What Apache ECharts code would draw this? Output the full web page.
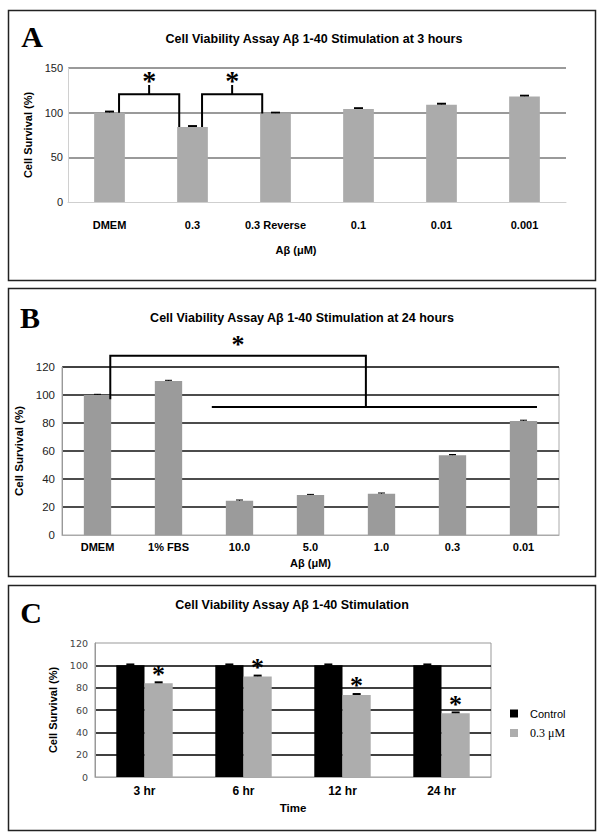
<!DOCTYPE html>
<html><head><meta charset="utf-8">
<script src="https://cdn.jsdelivr.net/npm/echarts@6/dist/echarts.min.js"></script>
<style>html,body{margin:0;padding:0;background:#fff}#c{width:602px;height:840px}</style>
</head><body><div id="c"></div>
<script>
const SANS = '"Liberation Sans", Arial, sans-serif';
const SERIF = '"Liberation Serif", "Times New Roman", serif';
const DEJAVU = '"DejaVu Sans", Verdana, sans-serif';

// ---------- Panel A ----------
const titleA = 'Cell Viability Assay Aβ 1-40 Stimulation at 3 hours';
const catsA = ['DMEM', '0.3', '0.3 Reverse', '0.1', '0.01', '0.001'];
const valsA = [100, 84, 99, 104, 109, 118];
const errA = [1.2, 1.0, 1.0, 1.0, 1.0, 1.0];
const yTicksA = [0, 50, 100, 150];
const bracketsA = [[0, 1, 120.5], [1, 2, 120.5]]; // [from category, to category, bracket level (%)]

// ---------- Panel B ----------
const titleB = 'Cell Viability Assay Aβ 1-40 Stimulation at 24 hours';
const catsB = ['DMEM', '1% FBS', '10.0', '5.0', '1.0', '0.3', '0.01'];
const valsB = [100, 110, 24.5, 28.5, 29.5, 57, 81.5];
const errB = [0.5, 0.5, 0.5, 0.5, 0.5, 0.5, 0.5];
const yTicksB = [0, 20, 40, 60, 80, 100, 120];
const bracketB = [[0, 4, 128, 2, 6, 91.5]]; // [from, to, level, group start, group end, group level]

// ---------- Panel C ----------
const titleC = 'Cell Viability Assay Aβ 1-40 Stimulation';
const catsC = ['3 hr', '6 hr', '12 hr', '24 hr'];
const controlC = [100, 100, 100, 100];
const treatC = [84, 90, 73.5, 57];
const errControlC = [0.8, 0.8, 0.8, 0.8];
const errTreatC = [0.8, 0.8, 0.8, 0.8];
const yTicksC = [0, 20, 40, 60, 80, 100, 120];
const seriesNamesC = ['Control', '0.3 μM'];

const chart = echarts.init(document.getElementById('c'), null, {renderer: 'svg'});

function errSeries(xi, vals, errs, offsetFrac, capW, lw) {
  return {
    type: 'custom', xAxisIndex: xi, yAxisIndex: xi, z: 1, silent: true,
    encode: {x: 0, y: 1},
    data: vals.map((v, i) => [i, v, errs[i]]),
    renderItem: (params, api) => {
      const i = api.value(0), v = api.value(1), e = api.value(2);
      const band = api.size([1, 0])[0];
      const top = api.coord([i, v + e]);
      const bot = api.coord([i, v - e]);
      const x = top[0] + offsetFrac * band;
      const st = {stroke: '#000', lineWidth: lw};
      return {type: 'group', children: [
        {type: 'line', shape: {x1: x, y1: top[1], x2: x, y2: bot[1]}, style: {stroke: '#000', lineWidth: 1}},
        {type: 'line', shape: {x1: x - capW / 2, y1: top[1], x2: x + capW / 2, y2: top[1]}, style: st},
        {type: 'line', shape: {x1: x - capW / 2, y1: bot[1], x2: x + capW / 2, y2: bot[1]}, style: st}
      ]};
    }
  };
}

function star(x, y, size) {
  return {type: 'text', x: x, y: y, style: {text: '*', fill: '#000', font: 'bold ' + size + 'px ' + SERIF, align: 'center', verticalAlign: 'middle'}};
}

const bracketSeriesA = {
  type: 'custom', xAxisIndex: 0, yAxisIndex: 0, z: 5, clip: false, silent: true,
  encode: {x: 0, y: 2},
  data: bracketsA,
  renderItem: (params, api) => {
    const band = api.size([1, 0])[0];
    const f = api.value(0), t = api.value(1), lv = api.value(2);
    const xl = api.coord([f, 0])[0] + 0.115 * band;
    const xr = api.coord([t, 0])[0] - 0.16 * band;
    const yf = api.coord([f, valsA[f]])[1];
    const yt = api.coord([t, valsA[t]])[1];
    const yl = api.coord([f, lv])[1];
    const ytk = api.coord([f, lv + 10.5])[1];
    const yst = api.coord([f, lv + 15])[1];
    const xm = (xl + xr) / 2;
    return {type: 'group', children: [
      {type: 'polyline', shape: {points: [[xl, yf], [xl, yl], [xr, yl], [xr, yt]]}, style: {stroke: '#000', lineWidth: 2, fill: 'none'}},
      {type: 'line', shape: {x1: xm, y1: yl, x2: xm, y2: ytk}, style: {stroke: '#000', lineWidth: 2}},
      star(xm, yst, 28)
    ]};
  }
};

const bracketSeriesB = {
  type: 'custom', xAxisIndex: 1, yAxisIndex: 1, z: 5, clip: false, silent: true,
  encode: {x: 0, y: 2},
  data: bracketB,
  renderItem: (params, api) => {
    const band = api.size([1, 0])[0];
    const f = api.value(0), t = api.value(1), lv = api.value(2);
    const g1 = api.value(3), g2 = api.value(4), gl = api.value(5);
    const xl = api.coord([f, 0])[0] + 0.18 * band;
    const xr = api.coord([t, 0])[0] - 0.22 * band;
    const yf = api.coord([f, valsB[f] - 3])[1];
    const yl = api.coord([f, lv])[1];
    const yg = api.coord([f, gl])[1];
    const xg1 = api.coord([g1, 0])[0] - 0.39 * band;
    const xg2 = api.coord([g2, 0])[0] + 0.19 * band;
    const xm = (xl + xr) / 2;
    const yst = api.coord([f, lv + 8])[1];
    return {type: 'group', children: [
      {type: 'polyline', shape: {points: [[xl, yf], [xl, yl], [xr, yl], [xr, yg]]}, style: {stroke: '#000', lineWidth: 2, fill: 'none'}},
      {type: 'line', shape: {x1: xg1, y1: yg, x2: xg2, y2: yg}, style: {stroke: '#000', lineWidth: 2}},
      star(xm, yst, 26)
    ]};
  }
};

const boldName = (size) => ({fontWeight: 'bold', fontSize: size, color: '#000', fontFamily: SANS});

const option = {
  animation: false,
  backgroundColor: '#fff',
  textStyle: {fontFamily: SANS},
  grid: [
    {left: 68, top: 68, width: 498, height: 134},
    {left: 62, top: 367, width: 497, height: 168, show: true, borderColor: '#aaa', borderWidth: 1},
    {left: 95, top: 643, width: 396, height: 134, show: true, borderColor: '#999', borderWidth: 1}
  ],
  xAxis: [
    {gridIndex: 0, type: 'category', data: catsA,
      axisLine: {lineStyle: {color: '#cfcfcf'}}, axisTick: {length: 7, lineStyle: {color: '#cfcfcf'}},
      axisLabel: {interval: 0, margin: 17, color: '#000', fontWeight: 'bold', fontSize: 11, fontFamily: SANS},
      name: 'Aβ (μM)', nameLocation: 'middle', nameGap: 42,
      nameTextStyle: Object.assign(boldName(11), {padding: [0, 42, 0, 0]})},
    {gridIndex: 1, type: 'category', data: catsB,
      axisLine: {lineStyle: {color: '#aaa'}}, axisTick: {length: 3, lineStyle: {color: '#ccc'}},
      axisLabel: {interval: 0, margin: 6, color: '#000', fontWeight: 'bold', fontSize: 11, fontFamily: SANS},
      name: 'Aβ (μM)', nameLocation: 'middle', nameGap: 22, nameTextStyle: boldName(11)},
    {gridIndex: 2, type: 'category', data: catsC,
      axisLine: {lineStyle: {color: '#aaa'}}, axisTick: {length: 4, lineStyle: {color: '#bbb'}},
      axisLabel: {interval: 0, margin: 8, color: '#000', fontWeight: 'bold', fontSize: 12, fontFamily: SANS},
      name: 'Time', nameLocation: 'middle', nameGap: 25, nameTextStyle: boldName(11.5)}
  ],
  yAxis: [
    {gridIndex: 0, type: 'value', min: yTicksA[0], max: yTicksA[yTicksA.length - 1], interval: yTicksA[1] - yTicksA[0],
      axisLine: {show: true, lineStyle: {color: '#d0d0d0'}}, axisTick: {show: false},
      splitLine: {showMinLine: false, lineStyle: {color: '#9a9a9a', width: 2}},
      axisLabel: {margin: 5, color: '#222', fontSize: 11, fontFamily: SANS},
      name: 'Cell Survival (%)', nameLocation: 'middle', nameGap: 34, nameTextStyle: boldName(11)},
    {gridIndex: 1, type: 'value', min: yTicksB[0], max: yTicksB[yTicksB.length - 1], interval: yTicksB[1] - yTicksB[0],
      axisLine: {show: true, lineStyle: {color: '#999'}}, axisTick: {show: false},
      splitLine: {showMinLine: false, lineStyle: {color: '#111', width: 1.5}},
      axisLabel: {margin: 7, color: '#222', fontSize: 11.5, fontFamily: SANS},
      name: 'Cell Survival (%)', nameLocation: 'middle', nameGap: 27, nameTextStyle: boldName(11.5)},
    {gridIndex: 2, type: 'value', min: yTicksC[0], max: yTicksC[yTicksC.length - 1], interval: yTicksC[1] - yTicksC[0],
      axisLine: {show: true, lineStyle: {color: '#999'}}, axisTick: {show: false},
      splitLine: {showMinLine: false, showMaxLine: false, lineStyle: {color: '#000', width: 1.5}},
      axisLabel: {margin: 7, color: '#444', fontSize: 9.5, fontFamily: DEJAVU},
      name: 'Cell Survival (%)', nameLocation: 'middle', nameGap: 35, nameTextStyle: boldName(11)}
  ],
  legend: {
    orient: 'vertical', left: 505, top: 703, itemWidth: 8, itemHeight: 8, itemGap: 8, icon: 'rect',
    textStyle: {fontSize: 11, color: '#000', fontFamily: SANS, padding: [0, 0, 0, 7]},
    data: [{name: seriesNamesC[0]}, {name: seriesNamesC[1], textStyle: {fontFamily: SERIF, fontSize: 12, padding: [0, 0, 0, 7]}}]
  },
  series: [
    {type: 'bar', xAxisIndex: 0, yAxisIndex: 0, data: valsA, barCategoryGap: '63%', z: 2, itemStyle: {color: '#ababab'}},
    errSeries(0, valsA, errA, 0, 9, 2),
    bracketSeriesA,
    {type: 'bar', xAxisIndex: 1, yAxisIndex: 1, data: valsB, barCategoryGap: '61.5%', z: 2, itemStyle: {color: '#9b9b9b'}},
    errSeries(1, valsB, errB, 0, 7, 1),
    bracketSeriesB,
    {type: 'bar', name: seriesNamesC[0], xAxisIndex: 2, yAxisIndex: 2, data: controlC, barGap: '0%', barCategoryGap: '43%', z: 2, itemStyle: {color: '#000'}},
    {type: 'bar', name: seriesNamesC[1], xAxisIndex: 2, yAxisIndex: 2, data: treatC, barGap: '0%', barCategoryGap: '43%', z: 2, itemStyle: {color: '#adadad'},
      label: {show: true, position: 'top', distance: -4, formatter: '*', fontFamily: SERIF, fontWeight: 'bold', fontSize: 26, color: '#000'}},
    errSeries(2, controlC, errControlC, -0.143, 8, 2),
    errSeries(2, treatC, errTreatC, 0.143, 8, 2)
  ],
  graphic: [
    {type: 'rect', shape: {x: 8.5, y: 10.5, width: 587, height: 270}, style: {fill: 'none', stroke: '#222', lineWidth: 1.5}, silent: true},
    {type: 'rect', shape: {x: 8.5, y: 288.5, width: 587, height: 288}, style: {fill: 'none', stroke: '#222', lineWidth: 1.5}, silent: true},
    {type: 'rect', shape: {x: 8.5, y: 585.5, width: 587, height: 245}, style: {fill: 'none', stroke: '#222', lineWidth: 1.5}, silent: true},
    {type: 'text', x: 32, y: 36, style: {text: 'A', font: 'bold 30px ' + SERIF, fill: '#000', align: 'center', verticalAlign: 'middle'}},
    {type: 'text', x: 30, y: 317, style: {text: 'B', font: 'bold 30px ' + SERIF, fill: '#000', align: 'center', verticalAlign: 'middle'}},
    {type: 'text', x: 31, y: 612, style: {text: 'C', font: 'bold 30px ' + SERIF, fill: '#000', align: 'center', verticalAlign: 'middle'}},
    {type: 'text', x: 314, y: 39, style: {text: titleA, font: 'bold 12.5px ' + SANS, fill: '#000', align: 'center', verticalAlign: 'middle'}},
    {type: 'text', x: 302, y: 318, style: {text: titleB, font: 'bold 12.5px ' + SANS, fill: '#000', align: 'center', verticalAlign: 'middle'}},
    {type: 'text', x: 292, y: 605, style: {text: titleC, font: 'bold 12.5px ' + SANS, fill: '#000', align: 'center', verticalAlign: 'middle'}}
  ]
};
chart.setOption(option);
</script>
</body></html>
